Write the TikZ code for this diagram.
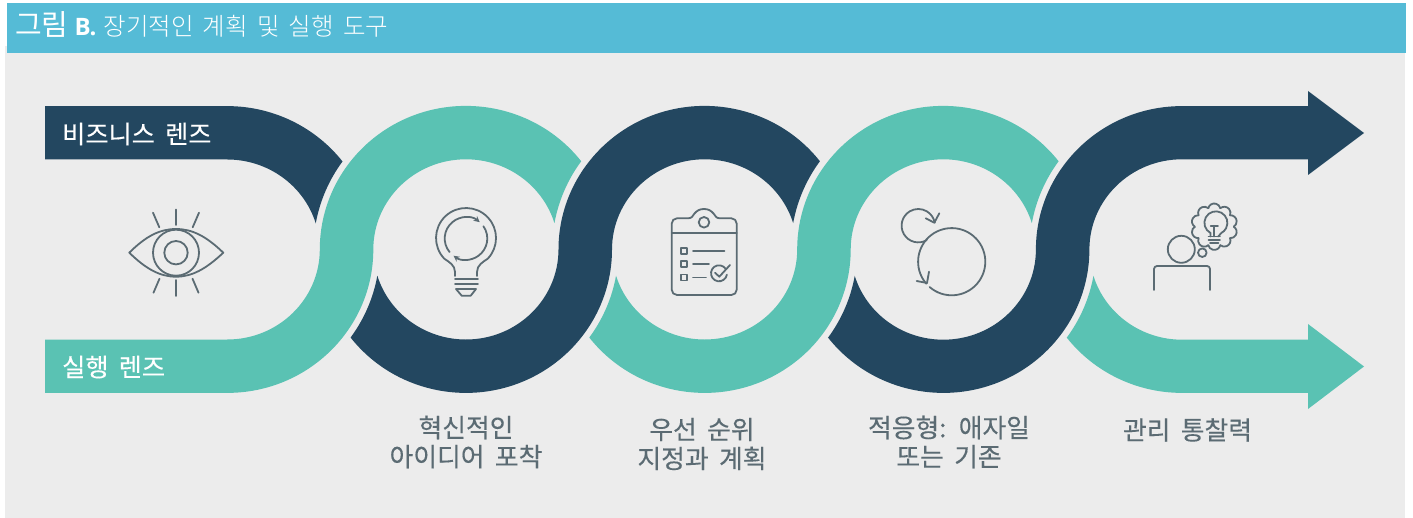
\documentclass[tikz,border=0pt]{standalone}
\usepackage{fontspec}
\setmainfont{Noto Sans CJK KR}[WordSpace=2]
\newfontfamily\lightfont{Noto Sans CJK KR Light}[WordSpace=1.7]
\newfontfamily\latinfont{Open Sans}
\newfontfamily\labelfont{Noto Sans CJK KR}[WordSpace=1.8,FakeBold=0.25]
\usetikzlibrary{arrows.meta}
\definecolor{headblue}{HTML}{55BBD6}
\definecolor{panelgray}{HTML}{ECECEC}
\definecolor{darkband}{HTML}{234760}
\definecolor{tealband}{HTML}{5AC2B3}
\definecolor{icongray}{HTML}{5B6B73}
\tikzset{
  bandout/.style={x radius=146.1,y radius=143.4},
  bandin/.style={x radius=92.6,y radius=90.2},
  bandcut/.style={x radius=152.5,y radius=150},
  iconline/.style={draw=icongray,line width=1.8pt,line cap=round,line join=round},
  steplabel/.style={text=icongray,align=center,font=\labelfont\fontsize{25.8}{29}\selectfont},
  lenslabel/.style={text=white,anchor=west,inner sep=0pt,font=\labelfont\fontsize{25.2}{29}\selectfont}
}
\newcommand{\sband}[2]{\fill[#2,shift={(#1,249.5)}] (142.12:146.1 and 143.4)
  arc[bandout,start angle=142.12,end angle=0]
  arc[bandin,start angle=180,end angle=343]
  arc[bandcut,start angle=190.1,end angle=216]
  arc[bandout,start angle=322.12,end angle=180]
  arc[bandin,start angle=0,end angle=163]
  arc[bandcut,start angle=10.1,end angle=36] -- cycle;}

\begin{document}
\begin{tikzpicture}[x=1pt,y=-1pt]
\useasboundingbox (0,0) rectangle (1413,518);
\fill[white] (0,0) rectangle (1413,518);

%panel and header
\fill[panelgray] (5,46) rectangle (1405,518);
\fill[headblue] (7,3) rectangle (1406,53);
\node[text=white,anchor=base west,inner sep=0pt] (title) at (15,36) {\fontsize{29}{30}\selectfont 그림\hspace{6pt}{\latinfont\bfseries\fontsize{24}{30}\selectfont B.}\hspace{7pt}\lightfont\fontsize{24.5}{30}\selectfont 장기적인 계획 및 실행 도구};

%business lens
\fill[darkband] (45,106.1) -- (227.2,106.1)
  arc[bandout,start angle=270,end angle=322.12]
  arc[bandcut,start angle=216,end angle=190.1]
  arc[bandin,start angle=343,end angle=270] -- (45,159.3) -- cycle;
\node[lenslabel] (business) at (62,134) {비즈니스 렌즈};

%execution lens
\fill[tealband] (45,392.9) -- (227.2,392.9)
  arc[bandout,start angle=90,end angle=0]
  arc[bandin,start angle=180,end angle=343]
  arc[bandcut,start angle=190.1,end angle=216]
  arc[bandout,start angle=322.12,end angle=180]
  arc[bandin,start angle=0,end angle=90] -- (45,339.7) -- cycle;
\node[lenslabel] (execution) at (62,367) {실행 렌즈};

%middle bands
\sband{465.9}{darkband}
\sband{704.6}{tealband}

%last dark band
\fill[darkband,shift={(943.3,249.5)}] (142.12:146.1 and 143.4)
  arc[bandout,start angle=142.12,end angle=0]
  arc[bandin,start angle=180,end angle=270]
  -- (364.7,-90.2) -- (364.7,-74.5) -- (420.7,-116.5) -- (364.7,-158.5) -- (364.7,-143.4) -- (238.7,-143.4)
  arc[bandout,start angle=270,end angle=180]
  arc[bandin,start angle=0,end angle=163]
  arc[bandcut,start angle=10.1,end angle=36] -- cycle;

%last teal band
\fill[tealband,shift={(1182,249.5)}] (142.12:146.1 and 143.4)
  arc[bandout,start angle=142.12,end angle=90]
  -- (126,143.4) -- (126,159.5) -- (182,117) -- (126,74.5) -- (126,90.2) -- (0,90.2)
  arc[bandin,start angle=90,end angle=163]
  arc[bandcut,start angle=10.1,end angle=36] -- cycle;

%eye
\draw[iconline] (129.3,252.7) .. controls (146,236) and (160,229) .. (176,229) .. controls (192,229) and (206,236) .. (223.3,252.7) .. controls (206,269) and (192,276.7) .. (176,276.7) .. controls (160,276.7) and (146,269) .. (129.3,252.7) -- cycle;
\draw[iconline] (176,252.7) circle (23);
\draw[iconline] (176,252.7) circle (11.7);
\draw[iconline] (176,209.5) -- (176,225);
\draw[iconline] (153,212.7) -- (159.3,227.3);
\draw[iconline] (199,212.7) -- (192.7,227.3);
\draw[iconline] (176,280) -- (176,296);
\draw[iconline] (153.5,292.7) -- (159.5,278.7);
\draw[iconline] (198.5,292.7) -- (192.5,278.7);

%bulb
\draw[iconline] (455,276) -- (455,272) .. controls (455,265) and (449,262) .. (444.3,258.7) arc[start angle=136.4,end angle=403.6,radius=30] .. controls (483,262) and (477,265) .. (477,272) -- (477,276);
\draw[iconline,-{Stealth[length=6pt,width=6pt]}] (466,238.5) ++(140.5:21.3) arc[start angle=140.5,end angle=310,radius=21.3];
\draw[iconline,-{Stealth[length=6pt,width=6pt]}] (466,238.5) ++(-35:21.3) arc[start angle=-35,end angle=126,radius=21.3];
\draw[iconline] (455,279.3) -- (478,279.3);
\draw[iconline] (455,284) -- (478,284);
\draw[iconline] (456,289) -- (476,289) -- (470.7,295.7) -- (461.7,295.7) -- cycle;

%clipboard
\draw[iconline] (688,218.3) -- (677,218.3) arc[start angle=270,end angle=180,radius=5.3] -- (671.7,289.7) arc[start angle=180,end angle=90,radius=5.3] -- (731.4,295) arc[start angle=90,end angle=0,radius=5.3] -- (736.7,223.6) arc[start angle=0,end angle=-90,radius=5.3] -- (720,218.3) .. controls (716,218.3) and (715.5,216) .. (713.5,213.5) .. controls (711,210.5) and (708,209) .. (704,209) .. controls (700,209) and (697,210.5) .. (694.5,213.5) .. controls (692.5,216) and (692,218.3) .. (688,218.3) -- cycle;
\draw[iconline] (704,222.3) circle (5.3);
\draw[iconline] (671.7,233.3) -- (736.7,233.3);
\foreach \y in {251,264,277.5} \draw[iconline] (681,\y-3) rectangle (687,\y+3);
\draw[iconline] (693,251) -- (724.5,251);
\draw[iconline] (693,264) -- (709,264);
\draw[iconline] (693,277.5) -- (706,277.5);
\draw[iconline] (719,273.3) ++(-35:8) arc[start angle=-35,end angle=-350,radius=8];
\draw[iconline] (715,272.7) -- (719.3,276.7) -- (730,265);

%cycles
\draw[iconline] (918.3,225.7) ++(60:16.7) arc[start angle=60,end angle=350,radius=16.7];
\draw[iconline] (925.7,218.3) -- (934.3,222.7) -- (939.3,213.3);
\draw[iconline] (951.7,261.7) ++(131:33.6) arc[start angle=131,end angle=-221,radius=33.6];
\draw[iconline] (916.7,281) -- (927,283) -- (929,271.7);

%person
\draw[iconline] (1181.3,249.3) circle (13.5);
\draw[iconline] (1202.3,252.7) circle (4.3);
\draw[iconline,rounded corners=3pt] (1154,290) -- (1154,266) -- (1210,266) -- (1210,290);
\foreach \a in {18,54,...,342} \draw[iconline,shift={(1214.3,226.7)}] (\a:17) ++(\a-75.9:6.2) arc[start angle=\a-75.9,end angle=\a+75.9,radius=6.2];
\draw[iconline] (1210.5,236.5) -- (1210.5,233) arc[start angle=118,end angle=422,radius=11.5] -- (1218.2,236.5);
\draw[iconline] (1210.7,225.7) -- (1218,225.7);
\draw[iconline] (1214.3,225.7) -- (1214.3,236.5);
\draw[iconline] (1208.5,236.5) -- (1220,236.5);
\draw[iconline] (1208.5,239.8) -- (1220,239.8);
\draw[iconline] (1210,242.8) -- (1218.5,242.8);

%labels
\node[steplabel] (capture) at (466,442) {혁신적인\\아이디어 포착};
\node[steplabel] (priority) at (702,444) {우선 순위\\지정과 계획};
\node[steplabel] (adaptive) at (949,442) {적응형: 애자일\\또는 기존};
\node[steplabel] (manage) at (1187.5,430) {관리 통찰력};

\end{tikzpicture}
\end{document}
